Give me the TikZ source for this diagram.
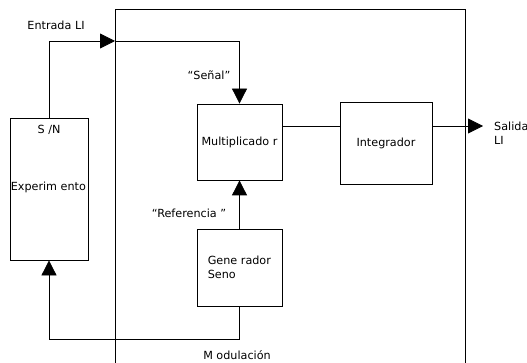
\documentclass[tikz,border=0pt]{standalone}
\usepackage{fontspec}
\setmainfont{DejaVu Sans}
\usetikzlibrary{arrows.meta}
\tikzset{
  box/.style={draw,line width=0.8pt,minimum width=85pt,inner sep=2pt},
  wire/.style={line width=0.8pt},
  tip/.style={-{Triangle[length=15pt,width=15pt]}},
  txt/.style={inner sep=0pt,font=\fontsize{11.2}{14}\selectfont}
}
\begin{document}
\begin{tikzpicture}[x=1pt,y=-1pt]
\useasboundingbox (0,0) rectangle (527,363);
\draw[wire] (115,366) -- (115,9) -- (465,9) -- (465,366);
\node[box,minimum width=78pt,minimum height=142pt] (exp) at (49,189) {};
\node[txt,anchor=north] at ([yshift=-7pt]exp.north) {S /N};
\node[txt,anchor=west] at ([xshift=1pt,yshift=2pt]exp.west) {Experim ento};
\node[box,minimum height=76pt,txt] (mult) at (239.5,142) {Multiplicado r};
\node[box,minimum width=92pt,minimum height=82pt,txt] (int) at (386,143) {Integrador};
\node[box,minimum height=77pt] (gen) at (239.5,267.5) {};
\node[txt,anchor=west,align=left] at ([xshift=11pt]gen.west) {Gene rador\\Seno};
\coordinate (entrada) at (115,41);
\coordinate (lnk) at (0,126);
\coordinate (salida) at (483,126);
\draw[wire,tip] (exp.north) |- (entrada);
\draw[wire,tip] (entrada) -| (mult.north);
\draw[wire] (mult.east |- lnk) -- (int.west |- lnk);
\draw[wire,tip] (int.east |- lnk) -- (salida);
\draw[wire,tip] (gen.north) -- (mult.south);
\draw[wire,tip] (gen.south) -- ++(0,33) -| (exp.south);
\node[txt] at (56,25) {Entrada LI};
\node[txt] at (209,75) {“Señal”};
\node[txt] at (189,213) {“Referencia ”};
\node[txt] at (237,355) {M odulación};
\node[txt,anchor=west,align=left] at (494,133) {Salida\\LI};
\end{tikzpicture}
\end{document}
